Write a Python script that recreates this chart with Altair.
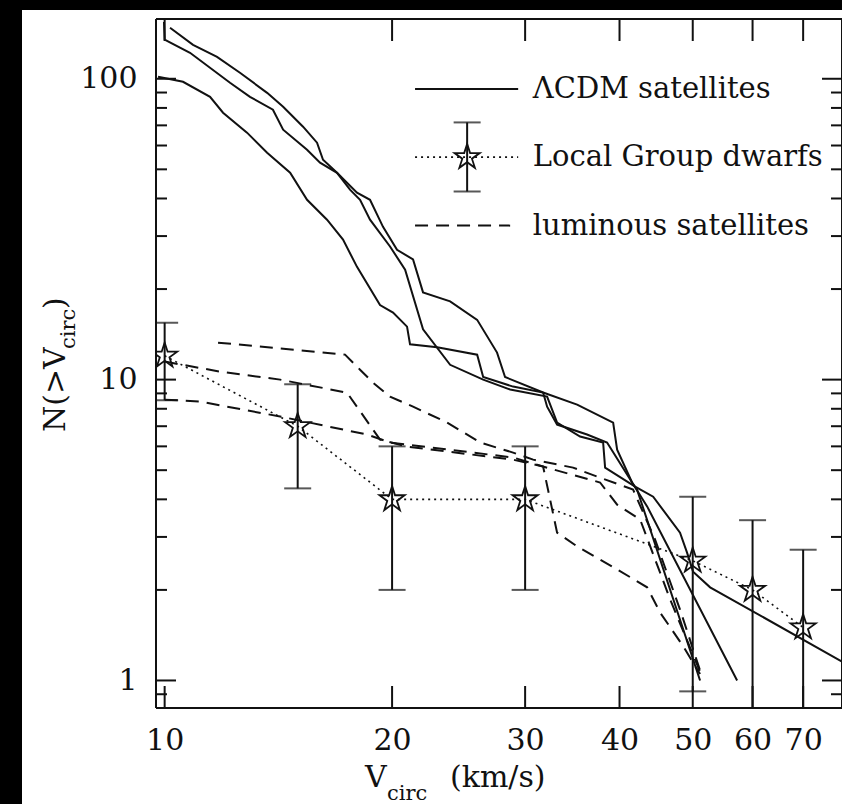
import altair as alt
import pandas as pd

FONT = "DejaVu Serif"

# ---------------- data ----------------
# LambdaCDM satellites: three cumulative curves N(>Vcirc)
a_v = [10.166, 10.904, 11.731, 12.58, 13.666, 14.349, 15.247, 15.911, 16.204, 16.911,
       17.972, 18.699, 19.455, 20.304, 21.319, 21.979, 23.87, 25.92, 27.54, 28.22,
       31.69, 35.15, 39.23, 39.71, 41.56, 42.2, 51.13]
a_n = [147.7, 129.7, 118.3, 104.7, 89.8, 80.7, 69.3, 61.3, 53.8, 48.7,
       41.8, 39.6, 32.2, 27.0, 25.1, 19.5, 18.2, 15.8, 12.3, 10.2,
       9.06, 8.26, 7.20, 5.85, 4.55, 4.31, 1.0]

b_v = [9.98, 10.0, 10.804, 12.205, 12.97, 13.91, 14.349, 15.434, 16.057, 16.911,
       17.593, 18.14, 18.699, 19.875, 20.81, 21.979, 23.87, 26.4, 28.66, 32.08,
       33.07, 35.47, 38.05, 38.28, 41.95, 44.32, 48.1, 49.14, 50.05, 52.72, 78.8]
b_n = [154.6, 134.8, 122.0, 97.0, 87.1, 78.9, 67.7, 58.1, 52.6, 48.7,
       42.8, 39.6, 34.0, 27.7, 23.2, 14.7, 11.2, 10.0, 9.27, 8.78,
       7.20, 6.47, 6.18, 5.10, 4.41, 4.08, 3.10, 2.66, 2.30, 2.04, 1.156]

c_v = [9.801, 10.576, 11.484, 11.948, 12.854, 13.666, 14.658, 15.434, 16.403, 17.223,
       17.972, 19.278, 20.059, 20.933, 21.125, 22.944, 25.92, 26.4, 28.92, 31.69,
       32.08, 33.07, 36.23, 38.51, 43.51, 57.24]
c_n = [101.5, 97.7, 87.1, 77.1, 66.2, 56.8, 48.7, 39.6, 34.0, 29.2,
       23.7, 17.7, 16.7, 15.0, 13.1, 12.8, 12.1, 10.2, 9.48, 9.06,
       8.13, 7.09, 6.57, 6.18, 3.79, 1.0]

# luminous satellites: three dashed curves
d1_v = [11.767, 17.328, 18.14, 18.87, 19.875, 21.319, 23.65, 26.16, 28.92, 30.74,
        34.72, 37.36, 41.69, 44.58, 48.1, 51.44]
d1_n = [13.27, 12.11, 10.79, 9.77, 8.78, 8.13, 7.20, 6.18, 5.72, 5.42,
        5.10, 4.76, 4.31, 2.94, 1.72, 1.03]

d2_v = [10.005, 11.839, 14.218, 17.434, 19.278, 20.933, 28.92, 31.69, 37.7, 39.71,
        42.59, 46.67, 51.44]
d2_n = [11.48, 10.63, 10.0, 9.05, 6.32, 5.99, 5.42, 5.14, 4.55, 3.84,
        3.43, 1.86, 1.03]

d3_v = [10.005, 11.139, 14.218, 18.53, 19.875, 28.92, 31.69, 33.07, 35.15, 39.71,
        43.51, 45.28, 48.56, 51.13]
d3_n = [8.58, 8.45, 7.54, 6.57, 6.18, 5.51, 5.14, 3.10, 2.79, 2.34,
        2.04, 1.68, 1.30, 1.05]

# Local Group dwarfs with Poisson error bars
lg_v = [10, 15, 20, 30, 50, 60, 70]
lg_n = [12, 7, 4, 4, 2.5, 2, 1.5]
lg_lo = [8.54, 4.35, 2.0, 2.0, 0.92, 0.59, 0.28]
lg_hi = [15.46, 9.65, 6.0, 6.0, 4.08, 3.41, 2.72]

# axes
x_domain = [9.74, 78.8]
y_domain = [0.81, 158]
x_ticks = [10, 20, 30, 40, 50, 60, 70]
y_major = [1, 10, 100]
y_minor = [0.9, 2, 3, 4, 5, 6, 7, 8, 9, 20, 30, 40, 50, 60, 70, 80, 90]

# in-plot key (placed in data coordinates)
key_labels = ["\u039bCDM satellites", "Local Group dwarfs", "luminous satellites"]
key_rows_n = [92.4, 54.9, 32.5]
key_line_v = [21.45, 29.37]
key_dash_v = [21.45, 28.66]
key_marker_v = [25.14]
key_err_n = [42.2, 71.6]
key_text_v = 30.71

# ---------------- chart ----------------
W, H = 686, 689
INK = "#111111"
xs = alt.Scale(type="log", domain=x_domain, nice=False)
ys = alt.Scale(type="log", domain=y_domain, nice=False)
x_axis = alt.Axis(values=x_ticks, format="d", ticks=False, domain=False, grid=False,
                  labelFont=FONT, labelFontSize=30, labelColor=INK, labelPadding=17,
                  title=None, zindex=1, labelFlush=False, labelOverlap=False)
y_axis = alt.Axis(values=y_major, format="d", ticks=False, domain=False, grid=False,
                  labelFont=FONT, labelFontSize=30, labelColor=INK, labelPadding=19,
                  title=None, zindex=1, labelFlush=False, labelOverlap=False)
X = lambda f="V": alt.X(f"{f}:Q", scale=xs, axis=x_axis)
Y = lambda f="N": alt.Y(f"{f}:Q", scale=ys, axis=y_axis)

STAR = ("M0,-1L0.2245,-0.309L0.951,-0.309L0.363,0.118L0.588,0.809L0,0.382"
        "L-0.588,0.809L-0.363,0.118L-0.951,-0.309L-0.2245,-0.309Z")


def curves(pairs):
    frames = []
    for name, (vs, ns) in pairs.items():
        frames.append(pd.DataFrame({"V": vs, "N": ns, "i": range(len(vs)), "c": name}))
    return pd.concat(frames, ignore_index=True)


one = pd.DataFrame({"k": [0]})

backdrop = alt.Chart(one).mark_rect(color="white").encode(
    x=alt.value(-134), x2=alt.value(W + 20), y=alt.value(-9), y2=alt.value(H + 100))

# inward tick marks on all four sides, and the frame at the domain edges
tick_style = dict(color=INK, strokeWidth=2)
frame_style = dict(color=INK, strokeWidth=2)
xt_df = pd.DataFrame({"V": x_ticks})
xt_bottom = alt.Chart(xt_df).mark_rule(**tick_style).encode(
    x=X(), y=alt.value(H), y2=alt.value(H - 22))
xt_top = alt.Chart(xt_df).mark_rule(**tick_style).encode(
    x=X(), y=alt.value(0), y2=alt.value(22))
ymaj_df = pd.DataFrame({"N": y_major})
ymin_df = pd.DataFrame({"N": y_minor})
yt_lmaj = alt.Chart(ymaj_df).mark_rule(**tick_style).encode(
    y=Y(), x=alt.value(0), x2=alt.value(20))
yt_lmin = alt.Chart(ymin_df).mark_rule(**tick_style).encode(
    y=Y(), x=alt.value(0), x2=alt.value(11))
yt_rmaj = alt.Chart(ymaj_df).mark_rule(**tick_style).encode(
    y=Y(), x=alt.value(W), x2=alt.value(W - 20))
yt_rmin = alt.Chart(ymin_df).mark_rule(**tick_style).encode(
    y=Y(), x=alt.value(W), x2=alt.value(W - 11))
fx_df = pd.DataFrame({"V": x_domain})
fy_df = pd.DataFrame({"N": y_domain})
frame_v = alt.Chart(fx_df).mark_rule(**frame_style).encode(
    x=X(), y=alt.value(0), y2=alt.value(H))
frame_h = alt.Chart(fy_df).mark_rule(**frame_style).encode(
    y=Y(), x=alt.value(0), x2=alt.value(W))

solid_df = curves({"a": (a_v, a_n), "b": (b_v, b_n), "c": (c_v, c_n),
                   "key": (key_line_v, [key_rows_n[0]] * 2)})
solid = alt.Chart(solid_df).mark_line(color=INK, strokeWidth=2, clip=True).encode(
    x=X(), y=Y(), detail="c:N", order="i:Q")

dash_df = curves({"d1": (d1_v, d1_n), "d2": (d2_v, d2_n), "d3": (d3_v, d3_n),
                  "key": (key_dash_v, [key_rows_n[2]] * 2)})
dashed = alt.Chart(dash_df).mark_line(color=INK, strokeWidth=2, strokeDash=[13, 8],
                                      clip=True).encode(
    x=X(), y=Y(), detail="c:N", order="i:Q")

dot_df = curves({"lg": (lg_v, lg_n), "key": (key_line_v, [key_rows_n[1]] * 2)})
dotted = alt.Chart(dot_df).mark_line(color=INK, strokeWidth=1.6, strokeDash=[2, 4],
                                     clip=True).encode(
    x=X(), y=Y(), detail="c:N", order="i:Q")

err_df = pd.DataFrame({"V": lg_v + key_marker_v,
                       "N": lg_lo + [key_err_n[0]],
                       "N2": lg_hi + [key_err_n[1]]})
errbars = alt.Chart(err_df).mark_rule(color=INK, strokeWidth=2, clip=True).encode(
    x=X(), y=Y(), y2="N2:Q")

cap_df = pd.DataFrame({"V": (lg_v + key_marker_v) * 2,
                       "N": lg_lo + [key_err_n[0]] + lg_hi + [key_err_n[1]]})
caps = alt.Chart(cap_df).mark_tick(color=INK, orient="horizontal", size=27,
                                   thickness=2, clip=True).encode(x=X(), y=Y())

star_df = pd.DataFrame({"V": lg_v + key_marker_v, "N": lg_n + [key_rows_n[1]]})
stars = alt.Chart(star_df).mark_point(shape=STAR, size=700, filled=False, color=INK,
                                      strokeWidth=1.8, opacity=1, clip=True).encode(
    x=X(), y=Y())

key_df = pd.DataFrame({"V": [key_text_v] * 3, "N": key_rows_n, "label": key_labels})
key_text = alt.Chart(key_df).mark_text(align="left", baseline="middle", font=FONT,
                                       fontSize=29, color=INK).encode(
    x=X(), y=Y(), text="label:N")


# axis titles with subscripts
def txt(s, x, y, size, angle=0):
    kw = dict(align="left", baseline="alphabetic", font=FONT, fontSize=size, color=INK)
    if angle:
        kw["angle"] = angle
    return alt.Chart(one).mark_text(**kw).encode(
        x=alt.value(x), y=alt.value(y), text=alt.value(s))


titles = [
    txt("N(>V", -91, 413, 30, 270),
    txt("circ", -81, 330, 21, 270),
    txt(")", -91, 290, 30, 270),
    txt("V", 209, 768, 30),
    txt("circ", 231, 781, 21),
    txt("(km/s)", 294, 768, 30),
]

chart = alt.layer(
    backdrop, xt_bottom, xt_top, yt_lmaj, yt_lmin, yt_rmaj, yt_rmin, frame_v, frame_h,
    solid, dashed, dotted, errbars, caps, stars, key_text, *titles
).properties(
    width=W, height=H,
    autosize=alt.AutoSizeParams(type="none"),
    padding={"left": 156, "top": 19, "right": 0, "bottom": 96},
    background="black",
).configure_view(stroke=None)

chart.save("out.html", embed_options={"renderer": "svg", "actions": False})
